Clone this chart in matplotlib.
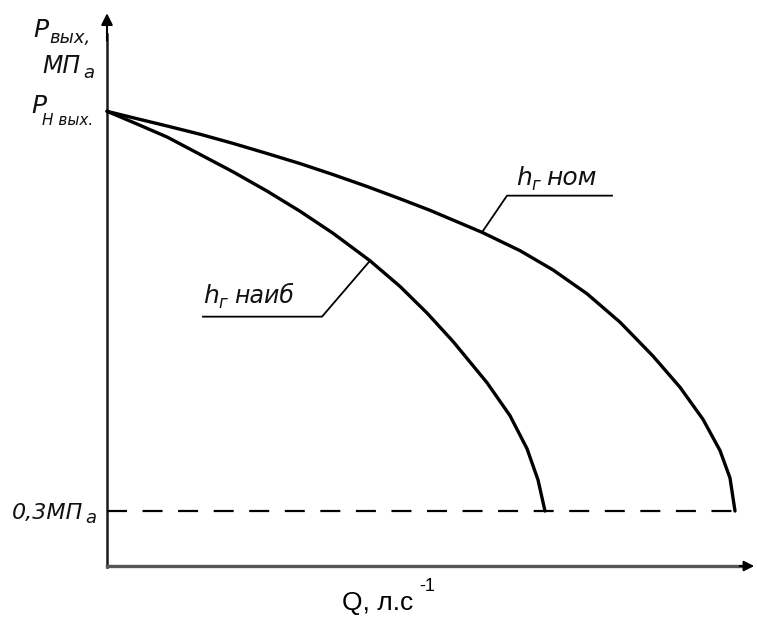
import matplotlib.pyplot as plt

# кривые Р вых (МПа) от Q (условные единицы)
q_nom = [0, 0.26, 0.60, 0.93, 1.26, 1.60, 1.93, 2.26, 2.60, 2.93, 3.23, 3.75,
         4.13, 4.46, 4.80, 5.13, 5.46, 5.73, 5.96, 6.13, 6.23, 6.28]
p_nom = [2.48, 2.445, 2.40, 2.355, 2.305, 2.25, 2.195, 2.135, 2.07, 2.003, 1.94, 1.82,
         1.72, 1.615, 1.485, 1.33, 1.145, 0.975, 0.80, 0.63, 0.48, 0.30]

q_max = [0, 0.26, 0.60, 0.93, 1.26, 1.60, 1.93, 2.26, 2.63, 2.93, 3.20, 3.46,
         3.80, 4.03, 4.20, 4.31, 4.38]
p_max = [2.48, 2.42, 2.34, 2.245, 2.15, 2.045, 1.935, 1.815, 1.665, 1.525, 1.38, 1.225,
         1.00, 0.82, 0.64, 0.47, 0.30]

p_min = 0.3      # 0,3 МПа
q_end = 6.38     # конец пунктира

W, H = 757, 617


def at(x, y):
    # пиксели картинки -> доли фигуры
    return x / W, 1 - y / H


fig = plt.figure(figsize=(W / 100, H / 100), dpi=100)
ax = fig.add_axes([0, 0, 1, 1])
ax.set_xlim(-1.07, 6.50)
ax.set_ylim(-0.278, 3.087)
ax.axis('off')

# оси
ax.plot([0, 0], [-0.005, 2.9], color='#1a1a1a', lw=1.8)
ax.plot([0, 6.35], [0, 0], color='#555555', lw=2.4)
ax.annotate('', xy=(0, 3.03), xytext=(0, 2.85),
            arrowprops=dict(arrowstyle='-|>', color='black', lw=1.5, mutation_scale=17))
ax.annotate('', xy=(6.50, 0), xytext=(6.30, 0),
            arrowprops=dict(arrowstyle='-|>', color='black', lw=1.5, mutation_scale=15))

# линия 0,3 МПа
ax.plot([0, q_end], [p_min, p_min], color='black', lw=1.6, dashes=(9, 7))

# характеристики
ax.plot(q_nom, p_nom, color='black', lw=2.4, solid_capstyle='round', solid_joinstyle='round')
ax.plot(q_max, p_max, color='black', lw=2.4, solid_capstyle='round', solid_joinstyle='round')

# выноски
ax.plot([5.05, 4.0, 3.75], [2.02, 2.02, 1.82], color='black', lw=1.3)
ax.plot([0.96, 2.15, 2.63], [1.36, 1.36, 1.665], color='black', lw=1.3)

hand = dict(style='italic', family='DejaVu Sans', color='#111111')

fig.text(*at(516, 185), 'h', fontsize=18, **hand)
fig.text(*at(531, 190), 'г', fontsize=12, **hand)
fig.text(*at(546, 185), 'ном', fontsize=18, **hand)

fig.text(*at(203, 303), 'h', fontsize=18, **hand)
fig.text(*at(218, 308), 'г', fontsize=12, **hand)
fig.text(*at(234, 303), 'наиб', fontsize=17, **hand)

# подписи оси Y
fig.text(*at(33, 37), 'P', fontsize=18, **hand)
fig.text(*at(49, 43), 'вых,', fontsize=13, **hand)
fig.text(*at(42, 73), 'МП', fontsize=17, **hand)
fig.text(*at(83, 78), 'а', fontsize=13, **hand)

fig.text(*at(31, 113), 'P', fontsize=18, **hand)
fig.text(*at(42, 125), 'Н вых.', fontsize=11, **hand)

fig.text(*at(12, 519), '0,3МП', fontsize=16, **hand)
fig.text(*at(85, 523), 'а', fontsize=13, **hand)

fig.text(*at(342, 610), 'Q, л.с', fontsize=19, family='Liberation Sans')
fig.text(*at(419, 591), '-1', fontsize=13, family='Liberation Sans')

fig.savefig('out.png', dpi=100)
